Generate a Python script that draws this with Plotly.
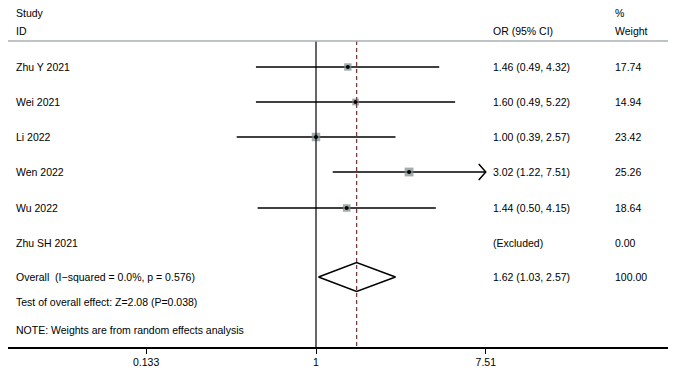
import math
import plotly.graph_objects as go

studies = ["Zhu Y 2021", "Wei 2021", "Li 2022", "Wen 2022", "Wu 2022", "Zhu SH 2021"]
or_vals = [1.46, 1.60, 1.00, 3.02, 1.44, None]
ci_lo = [0.49, 0.49, 0.39, 1.22, 0.50, None]
ci_hi = [4.32, 5.22, 2.57, 7.51, 4.15, None]
weights = [17.74, 14.94, 23.42, 25.26, 18.64, 0.00]
or_text = ["1.46 (0.49, 4.32)", "1.60 (0.49, 5.22)", "1.00 (0.39, 2.57)",
           "3.02 (1.22, 7.51)", "1.44 (0.50, 4.15)", "(Excluded)"]
weight_text = ["17.74", "14.94", "23.42", "25.26", "18.64", "0.00"]
overall = {"label": "Overall  (I\u2212squared = 0.0%, p = 0.576)", "or": 1.62, "lo": 1.03, "hi": 2.57,
           "text": "1.62 (1.03, 2.57)", "weight": "100.00"}
test_text = "Test of overall effect: Z=2.08 (P=0.038)"
note_text = "NOTE: Weights are from random effects analysis"
tick_vals = [0.133, 1, 7.51]
tick_text = ["0.133", "1", "7.51"]
x_max = 7.51

# layout (pixel rows, top-down)
W, H = 677, 374
L, R = 8, 668
AXIS_Y = 347
row_y = [67, 102, 137, 172, 208, 243]
overall_y = 277
px_per_ln = 84.2
x_left_ln = -(316 - L) / px_per_ln
x_right_ln = (R - 316) / px_per_ln

FONT = "Liberation Sans, Arial, Helvetica, sans-serif"
FS = 10.5
fig = go.Figure()

# CI lines
for i in range(len(studies)):
    if or_vals[i] is None:
        continue
    hi = min(ci_hi[i], x_max)
    fig.add_trace(go.Scatter(x=[ci_lo[i], hi], y=[row_y[i], row_y[i]], mode="lines",
                             line=dict(color="black", width=1.5), hoverinfo="skip"))
    if ci_hi[i] >= x_max:
        back = math.exp(-7 / px_per_ln)
        fig.add_trace(go.Scatter(x=[hi * back, hi, hi * back], y=[row_y[i] - 8, row_y[i], row_y[i] + 8],
                                 mode="lines", line=dict(color="black", width=1.5), hoverinfo="skip"))

# squares
xs = [v for v in or_vals if v is not None]
ys = [row_y[i] for i in range(len(studies)) if or_vals[i] is not None]
ws = [weights[i] for i in range(len(studies)) if or_vals[i] is not None]
fig.add_trace(go.Scatter(x=xs, y=ys, mode="markers",
                         marker=dict(symbol="square", size=[1.75 * math.sqrt(w) for w in ws],
                                     color="#7d8a8c", line=dict(width=0)), hoverinfo="skip"))
fig.add_trace(go.Scatter(x=xs, y=ys, mode="markers",
                         marker=dict(symbol="circle", size=4, color="black"), hoverinfo="skip"))

# null line & overall dashed line
fig.add_shape(type="line", x0=1, x1=1, y0=41, y1=AXIS_Y, xref="x", yref="y",
              line=dict(color="black", width=1.2))
fig.add_shape(type="line", x0=overall["or"], x1=overall["or"], y0=41, y1=AXIS_Y, xref="x", yref="y",
              line=dict(color="#7a3b3b", width=1.3, dash="4px,3px"))

# diamond
fig.add_trace(go.Scatter(x=[overall["lo"], overall["or"], overall["hi"], overall["or"], overall["lo"]],
                         y=[overall_y, overall_y - 14.5, overall_y, overall_y + 14.5, overall_y],
                         mode="lines", line=dict(color="black", width=1.5), hoverinfo="skip"))

# header line
fig.add_shape(type="line", x0=0, x1=1, y0=41, y1=41, xref="paper", yref="y",
              line=dict(color="#a8b0b2", width=1.5))


def px2paper(px):
    return (px - L) / (R - L)


def txt(x_px, y, s):
    fig.add_annotation(x=px2paper(x_px - 2), y=y, xref="paper", yref="y", text=s, showarrow=False,
                       xanchor="left", yanchor="middle", font=dict(family=FONT, size=FS, color="black"))


txt(16, 13, "Study")
txt(16, 31, "ID")
txt(493, 31, "OR (95% CI)")
txt(615, 13, "%")
txt(615, 31, "Weight")
for i, s in enumerate(studies):
    txt(16, row_y[i], s)
    txt(493, row_y[i], or_text[i])
    txt(615, row_y[i], weight_text[i])
txt(16, overall_y, overall["label"])
txt(493, overall_y, overall["text"])
txt(615, overall_y, overall["weight"])
txt(16, 302, test_text)
txt(16, 330, note_text)

fig.update_layout(
    width=W, height=H, margin=dict(l=L, r=W - R, t=0, b=H - AXIS_Y),
    paper_bgcolor="white", plot_bgcolor="white", showlegend=False,
    xaxis=dict(type="log", range=[x_left_ln / math.log(10), x_right_ln / math.log(10)],
               tickvals=tick_vals, ticktext=tick_text, ticks="outside", ticklen=5, tickwidth=1,
               tickcolor="black", showline=True, linecolor="black", linewidth=1.5,
               showgrid=False, zeroline=False, tickfont=dict(family=FONT, size=FS, color="black")),
    yaxis=dict(range=[AXIS_Y, 0], visible=False, showgrid=False, zeroline=False),
)
fig.write_html("out.html", config={"displayModeBar": False},
               post_script="document.body.style.margin='0';document.body.style.overflow='hidden';")
